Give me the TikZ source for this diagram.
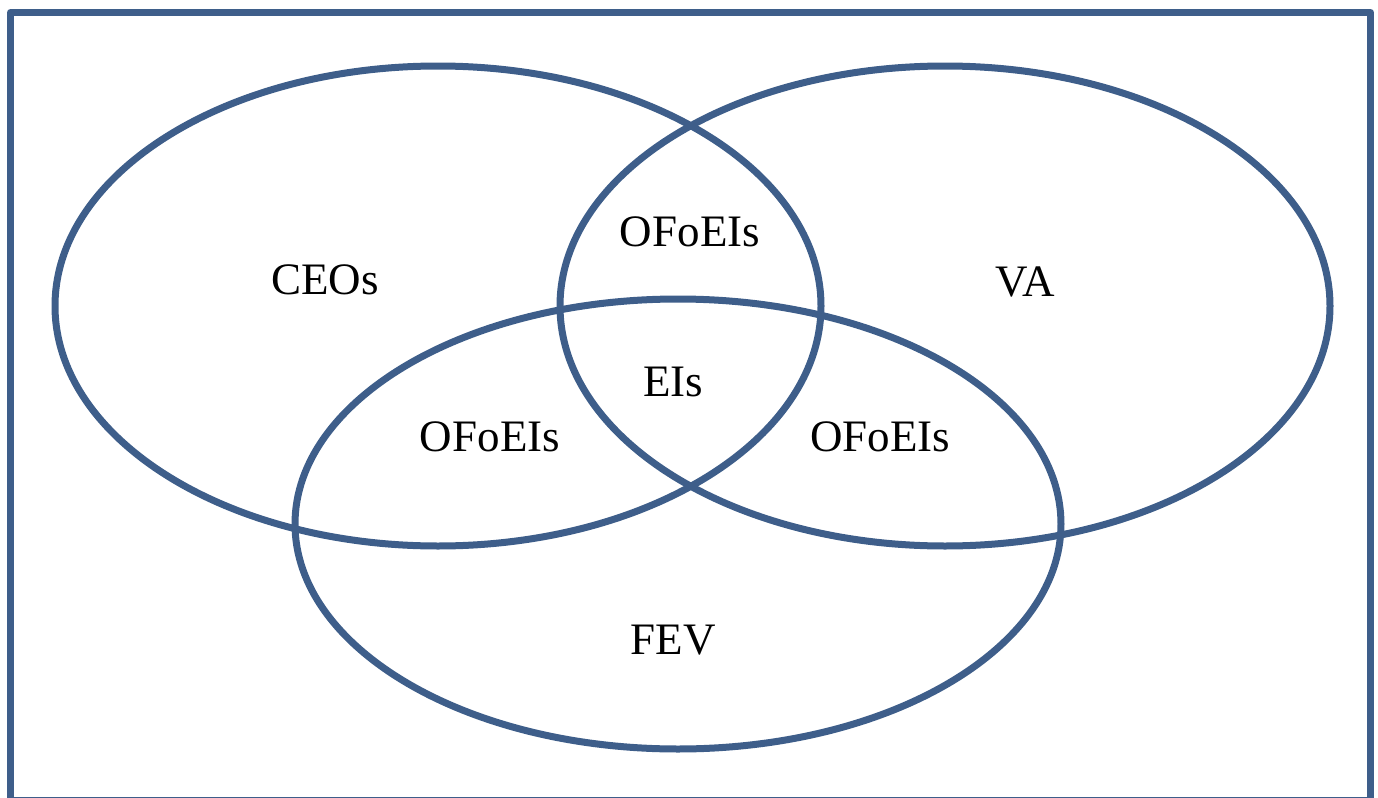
\documentclass[tikz,border=0pt]{standalone}
\usepackage{fontspec}
\setmainfont{Liberation Serif}
\usetikzlibrary{shapes.geometric}
\definecolor{vennblue}{RGB}{62,94,138}
\begin{document}
\begin{tikzpicture}[x=0.5pt,y=-0.5pt,
  vennset/.style={draw=vennblue,line width=3.5pt,ellipse,inner sep=0pt,outer sep=0pt},
  lbl/.style={font=\fontsize{22.5}{27}\selectfont,inner sep=0pt,text=black}]
\useasboundingbox (0,0) rectangle (1378,798);
\clip (0,0) rectangle (1378,798);
\draw[vennblue,line width=3.5pt,line join=round] (10.5,12.5) rectangle (1370.5,800);
\node[vennset,minimum width=383pt,minimum height=240pt] (ceo) at (438,306) {};
\node[vennset,minimum width=385pt,minimum height=240pt] (va) at (945,306) {};
\node[vennset,minimum width=383pt,minimum height=225pt] (fev) at (678,524) {};
\node[lbl] (tceo) at (325,280) {CEOs};
\node[lbl] (tva) at (1025,282) {VA};
\node[lbl] (ttop) at (690,232) {OFoEIs};
\node[lbl] (tei) at (673,382) {EIs};
\node[lbl] (tleft) at (490,437) {OFoEIs};
\node[lbl] (tright) at (880,437) {OFoEIs};
\node[lbl] (tfev) at (673,640) {FEV};
\end{tikzpicture}
\end{document}
